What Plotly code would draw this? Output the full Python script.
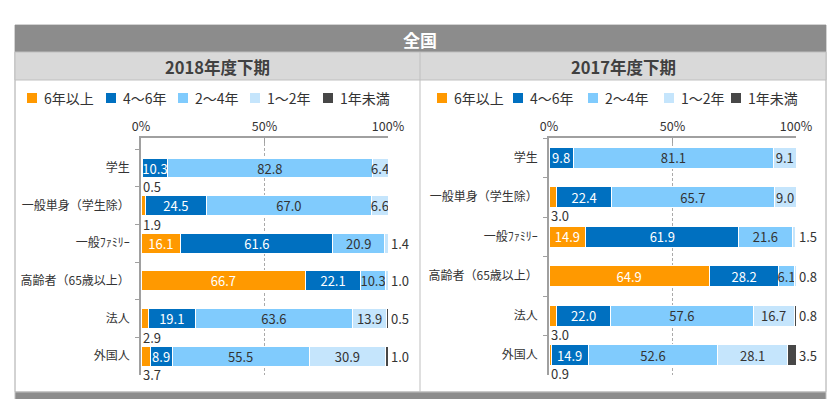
import plotly.graph_objects as go

categories = ["学生", "一般単身（学生除）", "一般ﾌｧﾐﾘｰ", "高齢者（65歳以上）", "法人", "外国人"]
series_names = ["6年以上", "4～6年", "2～4年", "1～2年", "1年未満"]

# 2018年度下期
v2018_6plus = [0.5, 1.9, 16.1, 66.7, 2.9, 3.7]
v2018_4to6 = [10.3, 24.5, 61.6, 22.1, 19.1, 8.9]
v2018_2to4 = [82.8, 67.0, 20.9, 10.3, 63.6, 55.5]
v2018_1to2 = [6.4, 6.6, 1.4, 1.0, 13.9, 30.9]
v2018_lt1 = [0.0, 0.0, 0.0, 0.0, 0.5, 1.0]

# 2017年度下期
v2017_6plus = [0.0, 3.0, 14.9, 64.9, 3.0, 0.9]
v2017_4to6 = [9.8, 22.4, 61.9, 28.2, 22.0, 14.9]
v2017_2to4 = [81.1, 65.7, 21.6, 6.1, 57.6, 52.6]
v2017_1to2 = [9.1, 9.0, 1.5, 0.8, 16.7, 28.1]
v2017_lt1 = [0.0, 0.0, 0.0, 0.0, 0.8, 3.5]

tick_vals = [0, 50, 100]
tick_text = ["0%", "50%", "100%"]

main_title = "全国"
panel_titles = ["2018年度下期", "2017年度下期"]

colors = ["#ff9900", "#0070c0", "#80cbfd", "#c5e5fc", "#474747"]
text_colors = ["#ffffff", "#ffffff", "#333333", "#333333", "#ffffff"]
FONT = "Noto Sans CJK JP"
W, H = 840, 399

panels = [
    dict(data=[v2018_6plus, v2018_4to6, v2018_2to4, v2018_1to2, v2018_lt1],
         xa="x", ya="y", x0=141, x1=388, left=15, right=420,
         legend_x=[27, 106, 178, 250, 323]),
    dict(data=[v2017_6plus, v2017_4to6, v2017_2to4, v2017_1to2, v2017_lt1],
         xa="x2", ya="y2", x0=549, x1=796, left=420, right=826,
         legend_x=[437, 513, 588, 664, 731]),
]

fig = go.Figure()
annotations = []
shapes = []

def px(x):
    return x / W

def py(y):
    return 1 - y / H

for p in panels:
    for si, (name, vals) in enumerate(zip(series_names, p["data"])):
        fig.add_trace(go.Bar(
            orientation="h", x=vals, y=categories, name=name,
            xaxis=p["xa"], yaxis=p["ya"],
            marker=dict(color=colors[si], line=dict(color="#ffffff", width=1)),
            text=[f"{v:.1f}" if v >= 5 else "" for v in vals],
            textposition="inside", insidetextanchor="middle", textangle=0,
            textfont=dict(family=FONT, size=13, color=text_colors[si]),
            showlegend=False, hoverinfo="x+y+name",
        ))
    # small value labels outside the bars
    for ci, cat in enumerate(categories):
        for si in range(5):
            v = p["data"][si][ci]
            if 0 < v < 5:
                if si == 0:
                    annotations.append(dict(
                        x=0, y=cat, xref=p["xa"], yref=p["ya"], text=f"{v:.1f}",
                        showarrow=False, xanchor="left", yanchor="middle",
                        xshift=0, yshift=-18.5,
                        font=dict(family=FONT, size=13, color="#333333")))
                else:
                    annotations.append(dict(
                        x=100, y=cat, xref=p["xa"], yref=p["ya"], text=f"{v:.1f}",
                        showarrow=False, xanchor="left", yanchor="middle",
                        xshift=1,
                        font=dict(family=FONT, size=13, color="#333333")))
    # legend
    for si, name in enumerate(series_names):
        lx = p["legend_x"][si]
        shapes.append(dict(type="rect", xref="paper", yref="paper",
                           x0=px(lx), x1=px(lx + 10), y0=py(103), y1=py(93),
                           fillcolor=colors[si], line=dict(width=0)))
        annotations.append(dict(x=px(lx + 15), y=py(98), xref="paper", yref="paper",
                                text=name, showarrow=False, xanchor="left", yanchor="middle",
                                font=dict(family=FONT, size=14, color="#333333")))

# frame and header bands
shapes = [
    dict(type="rect", xref="paper", yref="paper", x0=px(15), x1=px(826), y0=py(392), y1=py(25),
         fillcolor="#ffffff", line=dict(color="#a6a6a6", width=1), layer="below"),
    dict(type="rect", xref="paper", yref="paper", x0=px(15), x1=px(826), y0=py(52), y1=py(25),
         fillcolor="#8c8c8c", line=dict(width=0), layer="below"),
    dict(type="rect", xref="paper", yref="paper", x0=px(15), x1=px(826), y0=py(80), y1=py(52),
         fillcolor="#d9d9d9", line=dict(color="#bfbfbf", width=1), layer="below"),
    dict(type="line", xref="paper", yref="paper", x0=px(420), x1=px(420), y0=py(392), y1=py(52),
         line=dict(color="#bfbfbf", width=1), layer="below"),
    dict(type="rect", xref="paper", yref="paper", x0=px(15), x1=px(826), y0=py(400), y1=py(392),
         fillcolor="#8c8c8c", line=dict(color="#bfbfbf", width=1), layer="below"),
] + shapes

annotations.append(dict(x=px(420), y=py(39), xref="paper", yref="paper", text=f"<b>{main_title}</b>",
                        showarrow=False, xanchor="center", yanchor="middle",
                        font=dict(family=FONT, size=17, color="#ffffff")))
for p, t in zip(panels, panel_titles):
    annotations.append(dict(x=px((p["left"] + p["right"]) / 2), y=py(67), xref="paper", yref="paper",
                            text=f"<b>{t}</b>", showarrow=False, xanchor="center", yanchor="middle",
                            font=dict(family=FONT, size=16.5, color="#404040")))

ydom = [py(375), py(138)]
xaxis_common = dict(range=[0, 100], side="top", tickvals=tick_vals, ticktext=tick_text,
                    showline=True, linecolor="#a0a0a0", linewidth=1.5,
                    ticks="inside", ticklen=5, tickcolor="#a0a0a0",
                    showgrid=True, gridcolor="#aaaaaa", griddash="3px,2px", gridwidth=1,
                    zeroline=False, fixedrange=True, automargin=False,
                    tickfont=dict(family=FONT, size=12.5, color="#333333"))
yaxis_common = dict(autorange="reversed", showline=True, linecolor="#a0a0a0", linewidth=1.5,
                    ticks="outside", ticklen=4, tickcolor="#a0a0a0", tickson="boundaries",
                    showgrid=False, zeroline=False, fixedrange=True, ticklabelstandoff=7,
                    automargin=False,
                    tickfont=dict(family=FONT, size=12, color="#333333"))

fig.update_layout(
    width=W, height=H, margin=dict(l=0, r=0, t=0, b=0, pad=0), autosize=False,
    paper_bgcolor="#ffffff", plot_bgcolor="rgba(0,0,0,0)",
    barmode="stack", bargap=0.47,
    uniformtext=dict(minsize=13, mode="show"),
    xaxis=dict(domain=[px(141), px(388)], anchor="y", **xaxis_common),
    yaxis=dict(domain=ydom, anchor="x", **yaxis_common),
    xaxis2=dict(domain=[px(549), px(796)], anchor="y2", **xaxis_common),
    yaxis2=dict(domain=ydom, anchor="x2", **yaxis_common),
    shapes=shapes, annotations=annotations,
    font=dict(family=FONT, color="#333333"),
)

fig.write_html("out.html", config={"displayModeBar": False},
               post_script="document.body.style.margin='0';")
